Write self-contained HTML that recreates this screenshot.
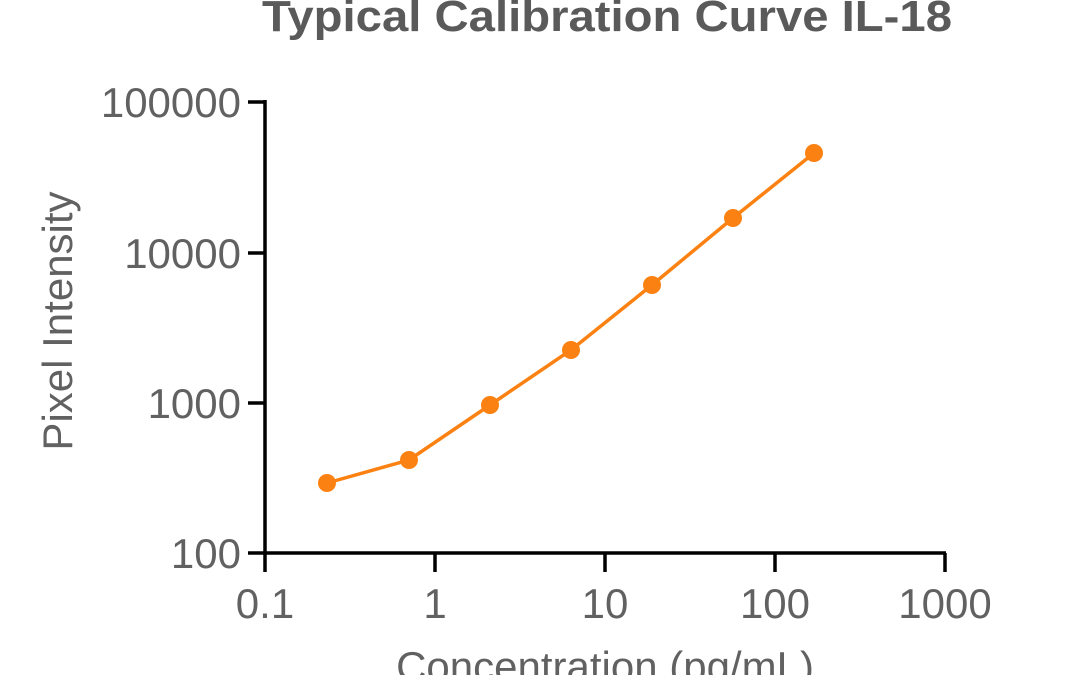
<!DOCTYPE html>
<html><head><meta charset="utf-8"><style>html,body{margin:0;padding:0;background:#fff;}svg{display:block;}</style></head>
<body>
<svg width="1080" height="675" viewBox="0 0 1080 675" xmlns="http://www.w3.org/2000/svg" font-family="Liberation Sans, sans-serif">
<text x="607" y="31" text-anchor="middle" font-size="44" font-weight="bold" fill="#5a5a5a" textLength="690" lengthAdjust="spacingAndGlyphs">Typical Calibration Curve IL-18</text>
<g stroke="#000" stroke-width="3.5" fill="none">
<path d="M265 100 V553 H946"/>
<path d="M248 102 H265 M248 253 H265 M248 403 H265 M248 553 H265"/>
<path d="M265 553 V572 M435 553 V572 M605 553 V572 M775 553 V572 M945 553 V572"/>
</g>
<g font-size="42" fill="#616161" text-anchor="end">
<text x="241" y="117">100000</text>
<text x="241" y="268">10000</text>
<text x="241" y="418">1000</text>
<text x="241" y="568">100</text>
</g>
<g font-size="42" fill="#616161" text-anchor="middle">
<text x="265" y="618">0.1</text>
<text x="435" y="618">1</text>
<text x="605" y="618">10</text>
<text x="775" y="618">100</text>
<text x="945" y="618">1000</text>
<text x="605" y="681">Concentration (pg/mL)</text>
<text transform="translate(72 321) rotate(-90)">Pixel Intensity</text>
</g>
<polyline points="327,483 409,460 490,405 571,350 652,285 733,218 814,153" fill="none" stroke="#fb8212" stroke-width="3.5"/>
<g fill="#fb8212">
<circle cx="327" cy="483" r="9"/><circle cx="409" cy="460" r="9"/><circle cx="490" cy="405" r="9"/><circle cx="571" cy="350" r="9"/><circle cx="652" cy="285" r="9"/><circle cx="733" cy="218" r="9"/><circle cx="814" cy="153" r="9"/>
</g>
</svg>
</body></html>
